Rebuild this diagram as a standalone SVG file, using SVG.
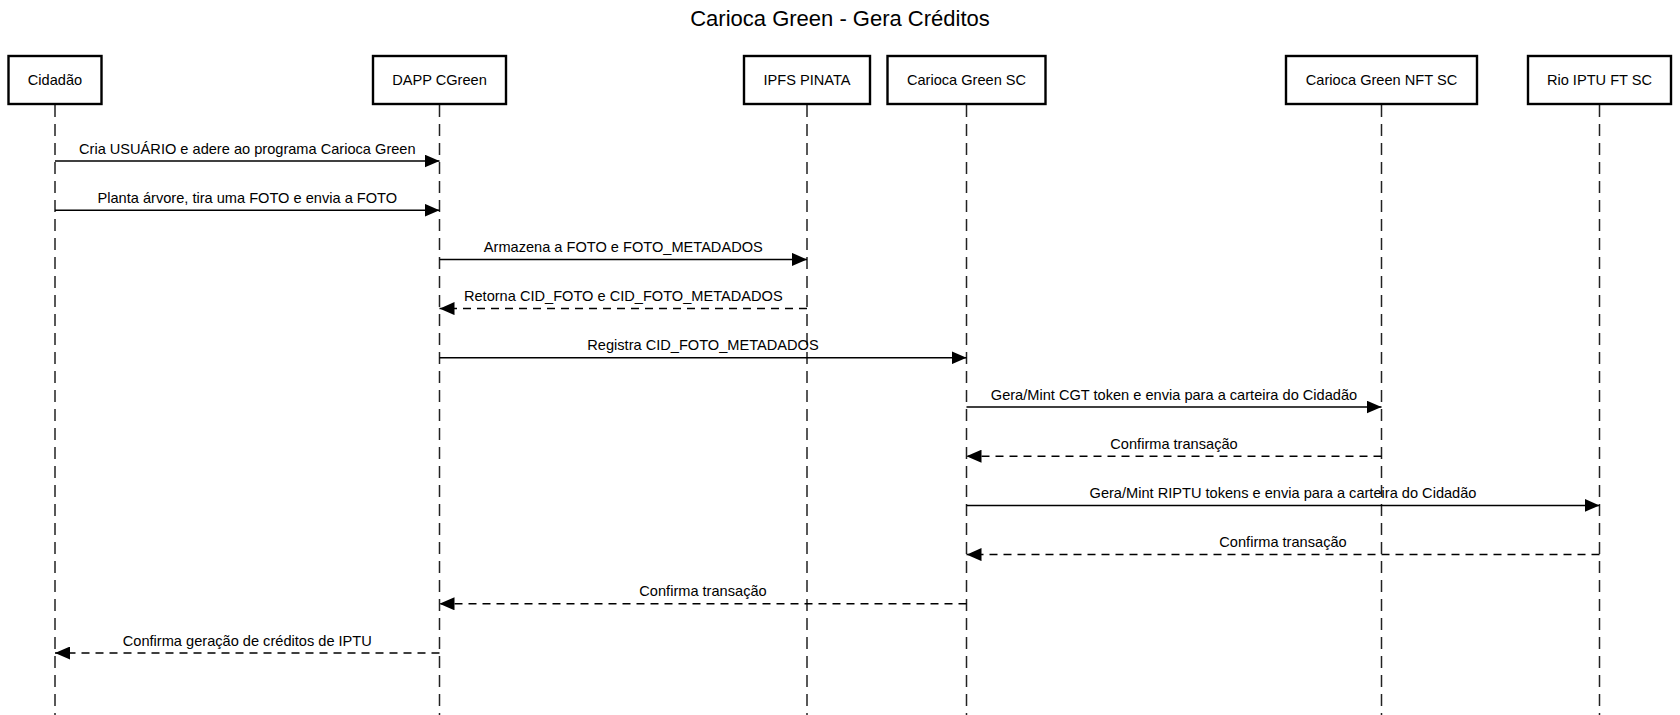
<svg xmlns="http://www.w3.org/2000/svg" width="1680" height="715" viewBox="0 0 1680 715">
<style>
text{font-family:"Liberation Sans",Arial,Helvetica,sans-serif;fill:#000}
.title{font-size:22px;text-anchor:middle}
.actor rect{fill:#fff;stroke:#000;stroke-width:2.4}
.actor text{font-size:14.6px;text-anchor:middle}
.life{stroke:#222;stroke-width:1.5;stroke-dasharray:12 7;fill:none}
.msg{stroke:#000;stroke-width:1.5;fill:none;marker-end:url(#arr)}
.ret{stroke-dasharray:8 6}
.lbl{font-size:14.6px;text-anchor:middle}
</style>
<defs>
<marker id="arr" markerUnits="userSpaceOnUse" markerWidth="15" markerHeight="13" refX="15" refY="6.5" orient="auto">
<path d="M0,0 L15,6.5 L0,13 Z" fill="#000"/>
</marker>
</defs>
<rect width="1680" height="715" fill="#fff"/>
<text class="title" x="840" y="26">Carioca Green - Gera Créditos</text>

<g id="lifelines">
<line class="life" x1="55" y1="105" x2="55" y2="715"/>
<line class="life" x1="439.5" y1="105" x2="439.5" y2="715"/>
<line class="life" x1="807" y1="105" x2="807" y2="715"/>
<line class="life" x1="966.5" y1="105" x2="966.5" y2="715"/>
<line class="life" x1="1381.5" y1="105" x2="1381.5" y2="715"/>
<line class="life" x1="1599.5" y1="105" x2="1599.5" y2="715"/>
</g>

<g id="cidadao" class="actor"><rect x="8.5" y="56" width="93" height="48"/><text x="55" y="85">Cidadão</text></g>
<g id="dapp" class="actor"><rect x="373" y="56" width="133" height="48"/><text x="439.5" y="85">DAPP CGreen</text></g>
<g id="ipfs" class="actor"><rect x="744" y="56" width="126" height="48"/><text x="807" y="85">IPFS PINATA</text></g>
<g id="cgsc" class="actor"><rect x="887.5" y="56" width="158" height="48"/><text x="966.5" y="85">Carioca Green SC</text></g>
<g id="nftsc" class="actor"><rect x="1286" y="56" width="191" height="48"/><text x="1381.5" y="85">Carioca Green NFT SC</text></g>
<g id="riosc" class="actor"><rect x="1528" y="56" width="143" height="48"/><text x="1599.5" y="85">Rio IPTU FT SC</text></g>

<g id="connectors">
<line class="msg" x1="55" y1="161" x2="439.5" y2="161"/>
<text class="lbl" x="247.3" y="153.5">Cria USUÁRIO e adere ao programa Carioca Green</text>
<line class="msg" x1="55" y1="210.2" x2="439.5" y2="210.2"/>
<text class="lbl" x="247.3" y="202.7">Planta árvore, tira uma FOTO e envia a FOTO</text>
<line class="msg" x1="439.5" y1="259.4" x2="807" y2="259.4"/>
<text class="lbl" x="623.3" y="251.9">Armazena a FOTO e FOTO_METADADOS</text>
<line class="msg ret" x1="807" y1="308.6" x2="439.5" y2="308.6"/>
<text class="lbl" x="623.3" y="301.1">Retorna CID_FOTO e CID_FOTO_METADADOS</text>
<line class="msg" x1="439.5" y1="357.8" x2="966.5" y2="357.8"/>
<text class="lbl" x="703" y="350.3">Registra CID_FOTO_METADADOS</text>
<line class="msg" x1="966.5" y1="407" x2="1381.5" y2="407"/>
<text class="lbl" x="1174" y="399.5">Gera/Mint CGT token e envia para a carteira do Cidadão</text>
<line class="msg ret" x1="1381.5" y1="456.2" x2="966.5" y2="456.2"/>
<text class="lbl" x="1174" y="448.7">Confirma transação</text>
<line class="msg" x1="966.5" y1="505.4" x2="1599.5" y2="505.4"/>
<text class="lbl" x="1283" y="497.9">Gera/Mint RIPTU tokens e envia para a carteira do Cidadão</text>
<line class="msg ret" x1="1599.5" y1="554.6" x2="966.5" y2="554.6"/>
<text class="lbl" x="1283" y="547.1">Confirma transação</text>
<line class="msg ret" x1="966.5" y1="603.8" x2="439.5" y2="603.8"/>
<text class="lbl" x="703" y="596.3">Confirma transação</text>
<line class="msg ret" x1="439.5" y1="653" x2="55" y2="653"/>
<text class="lbl" x="247.3" y="645.5">Confirma geração de créditos de IPTU</text>
</g>
</svg>
